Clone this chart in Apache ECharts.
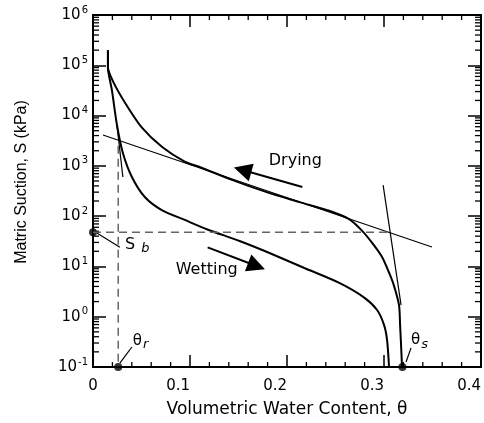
<!DOCTYPE html>
<html>
<head>
<meta charset="utf-8">
<script src="https://cdn.jsdelivr.net/npm/echarts@6.0.0/dist/echarts.min.js"></script>
<style>
  html, body { margin: 0; padding: 0; background: #fff; }
  #chart { width: 484px; height: 423px; }
</style>
</head>
<body>
<div id="chart"></div>
<script>
  // drying branch: volumetric water content vs matric suction (kPa)
  const dryingTheta = [0.0154, 0.0154, 0.0206, 0.033, 0.050, 0.071, 0.095, 0.110, 0.144, 0.179, 0.213, 0.247, 0.264, 0.2775, 0.288, 0.298, 0.305, 0.310, 0.3155, 0.3166, 0.3176, 0.3186]
  const dryingSuction = [200000, 90000, 48000, 18000, 5900, 2400, 1200, 950, 520, 300, 190, 121, 87, 51, 29, 15.4, 7.7, 4.3, 1.7, 0.68, 0.27, 0.1]

  // wetting branch
  const wettingTheta = [0.0154, 0.0154, 0.0195, 0.0247, 0.0308, 0.0401, 0.0534, 0.0709, 0.0946, 0.1172, 0.1511, 0.1819, 0.2179, 0.2539, 0.2796, 0.2929, 0.3001, 0.3032, 0.3052]
  const wettingSuction = [200000, 90000, 32000, 6500, 1800, 600, 240, 132, 84, 55, 32, 18.5, 9.3, 4.7, 2.4, 1.36, 0.68, 0.34, 0.1]

  // construction lines
  const residualTangentTheta = [0.0103, 0.3494]
  const residualTangentSuction = [4100, 24.3]
  const saturationTangentTheta = [0.2991, 0.3176]
  const saturationTangentSuction = [415, 1.7]
  const steepTangentTheta = [0.0247, 0.0308]
  const steepTangentSuction = [6470, 600]

  // characteristic points
  const thetaR = 0.026
  const thetaS = 0.319
  const airEntrySuction = 48
  const sbLineEndTheta = 0.306
  const thetaRLineTop = 2500

  // arrows [tail, head]
  const dryingArrow = [[0.2158, 380], [0.1542, 825]]
  const wettingArrow = [[0.1182, 24], [0.1686, 10.2]]

  // leader lines
  const sbLeader = [[0.004, 46], [0.0277, 24]]
  const thetaRLeader = [[0.0277, 0.12], [0.0401, 0.25]]
  const thetaSLeader = [[0.3227, 0.126], [0.3279, 0.24]]

  // axis ticks
  const xTicks = [0, 0.1, 0.2, 0.3, 0.4]
  const yDecades = [0.1, 1, 10, 100, 1e3, 1e4, 1e5, 1e6]

  // minor tick values: 0.02 steps on x, 2..9 per decade on y
  const xMinor = []
  xTicks.slice(0, -1).forEach(t => {
    for (let k = 1; k < 5; k++) xMinor.push(+(t + k * 0.02).toFixed(2))
  })
  const yMinor = []
  yDecades.slice(0, -1).forEach(d => {
    for (let m = 2; m <= 9; m++) yMinor.push(+(m * d).toPrecision(3))
  })

  const zip = (xs, ys) => xs.map((x, i) => [x, ys[i]])
  const ink = '#000'
  const font = 'DejaVu Sans'

  const chart = echarts.init(document.getElementById('chart'))

  const xBase = (position, showLabel) => ({
    type: 'value',
    position,
    min: xTicks[0],
    max: xTicks[xTicks.length - 1],
    interval: 0.1,
    axisLine: { show: true, onZero: false, lineStyle: { color: ink, width: 2 } },
    axisTick: { show: true, inside: true, length: 12, lineStyle: { color: ink, width: 1.5 } },
    splitLine: { show: false },
    axisLabel: {
      show: showLabel,
      margin: 12,
      align: 'right',
      alignMinLabel: 'center',
      fontFamily: font,
      fontSize: 15,
      color: ink,
      formatter: v => (v === 0 ? '0' : v.toFixed(1))
    }
  })

  const yBase = (position, showLabel) => ({
    type: 'log',
    logBase: 10,
    position,
    min: 0.1,
    max: 1e6,
    axisLine: { show: true, onZero: false, lineStyle: { color: ink, width: 2 } },
    axisTick: {
      show: true,
      inside: true,
      length: 13,
      customValues: yDecades,
      lineStyle: { color: ink, width: 1.5 }
    },
    splitLine: { show: false },
    axisLabel: {
      show: showLabel,
      margin: 5,
      customValues: yDecades,
      formatter: v => '{b|10}{e|' + Math.round(Math.log10(v)) + '}',
      rich: {
        b: { fontFamily: font, fontSize: 15, color: ink },
        e: { fontFamily: font, fontSize: 10, color: ink, padding: [0, 0, 10, 1] }
      }
    }
  })

  // short inward ticks on both opposite frame edges
  const tickPair = (a, b) => ({
    type: 'group',
    children: [a, b].map(s => ({ type: 'line', shape: s, style: { stroke: ink, lineWidth: 1.3 } }))
  })

  const minorTicks = (values, vertical) => ({
    type: 'custom',
    coordinateSystem: 'cartesian2d',
    data: values.map(v => (vertical ? [0.2, v] : [v, 1])),
    renderItem: (params, api) => {
      const r = params.coordSys
      if (vertical) {
        const y = api.coord([0.2, api.value(1)])[1]
        return tickPair(
          { x1: r.x, y1: y, x2: r.x + 6, y2: y },
          { x1: r.x + r.width, y1: y, x2: r.x + r.width - 6, y2: y }
        )
      }
      const x = api.coord([api.value(0), 1])[0]
      return tickPair(
        { x1: x, y1: r.y + r.height, x2: x, y2: r.y + r.height - 5 },
        { x1: x, y1: r.y, x2: x, y2: r.y + 5 }
      )
    }
  })

  const thinLine = (data, width, dashed) => ({
    type: 'line',
    data,
    symbol: 'none',
    silent: true,
    lineStyle: {
      color: dashed ? '#666' : ink,
      width,
      type: dashed ? [8, 5] : 'solid'
    }
  })

  const curve = (data) => ({
    type: 'line',
    data,
    symbol: 'none',
    smooth: 0.25,
    lineStyle: { color: ink, width: 2 }
  })

  const textItem = (theta, s, text, align) => ({
    value: [theta, s],
    label: { formatter: text, align, color: ink, opacity: 1 }
  })

  const option = {
    animation: false,
    backgroundColor: '#fff',
    grid: { left: 93, right: 2, top: 15, bottom: 56 },
    xAxis: [
      Object.assign(xBase('bottom', true), {
        name: 'Volumetric Water Content, θ',
        nameLocation: 'middle',
        nameGap: 34,
        nameTextStyle: { fontFamily: font, fontSize: 17, color: ink }
      }),
      xBase('top', false)
    ],
    yAxis: [
      Object.assign(yBase('left', true), {
        name: 'Matric Suction, S (kPa)',
        nameLocation: 'middle',
        nameGap: 63,
        nameTextStyle: { fontFamily: 'Liberation Sans', fontSize: 16, color: ink, padding: [0, 0, 0, 18] }
      }),
      yBase('right', false)
    ],
    series: [
      curve(zip(dryingTheta, dryingSuction)),
      curve(zip(wettingTheta, wettingSuction)),
      thinLine(zip(residualTangentTheta, residualTangentSuction), 1.2, false),
      thinLine(zip(saturationTangentTheta, saturationTangentSuction), 1.2, false),
      thinLine(zip(steepTangentTheta, steepTangentSuction), 1.2, false),
      thinLine([[0, airEntrySuction], [sbLineEndTheta, airEntrySuction]], 1.5, true),
      thinLine([[thetaR, thetaRLineTop], [thetaR, 0.1]], 1.5, true),
      thinLine(sbLeader, 1.2, false),
      thinLine(thetaRLeader, 1.2, false),
      thinLine(thetaSLeader, 1.2, false),
      minorTicks(xMinor, false),
      minorTicks(yMinor, true),
      {
        type: 'lines',
        coordinateSystem: 'cartesian2d',
        symbol: ['none', 'triangle'],
        symbolSize: [12, 18],
        lineStyle: { color: ink, width: 2, opacity: 1 },
        data: [{ coords: dryingArrow }, { coords: wettingArrow }]
      },
      {
        type: 'scatter',
        clip: false,
        symbolSize: 8,
        itemStyle: { color: ink },
        data: [[0, airEntrySuction], [thetaR, 0.1], [thetaS, 0.1]]
      },
      {
        type: 'scatter',
        clip: false,
        symbolSize: 1,
        itemStyle: { color: 'rgba(0,0,0,0)' },
        label: {
          show: true,
          position: 'inside',
          color: ink,
          opacity: 1,
          fontFamily: font,
          fontSize: 16,
          rich: {
            s: { fontFamily: font, fontSize: 16, color: ink },
            t: { fontFamily: font, fontSize: 15, color: ink },
            sub: { fontFamily: font, fontSize: 13, fontStyle: 'italic', color: ink, padding: [8, 0, 0, 1] }
          }
        },
        data: [
          textItem(0.2086, 1245, 'Drying', 'center'),
          textItem(0.1172, 8.5, 'Wetting', 'center'),
          textItem(0.0329, 26.6, '{s|S} {sub|b}', 'left'),
          textItem(0.0411, 0.33, '{t|θ}{sub|r}', 'left'),
          textItem(0.3279, 0.34, '{t|θ}{sub|s}', 'left')
        ]
      }
    ]
  }

  chart.setOption(option)
</script>
</body>
</html>
